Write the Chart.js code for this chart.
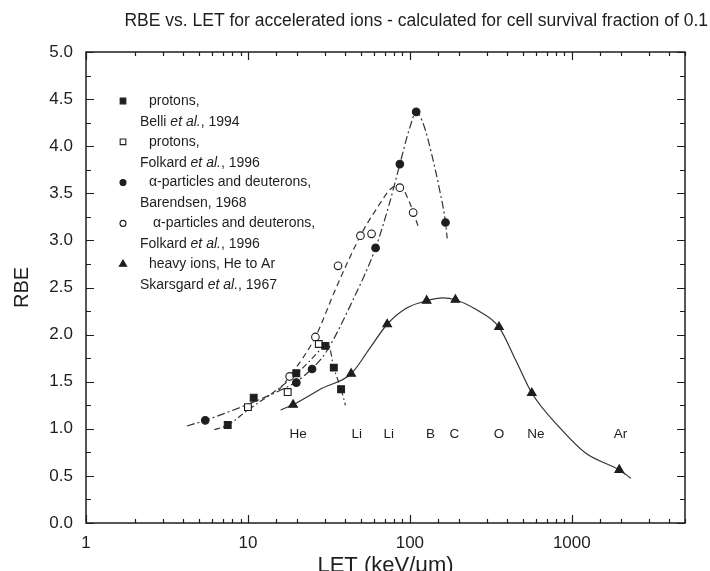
<!DOCTYPE html>
<html>
<head>
<meta charset="utf-8">
<script src="https://cdn.jsdelivr.net/npm/chart.js@4.4.0/dist/chart.umd.min.js"></script>
<style>
  html, body { margin: 0; padding: 0; background: #fff; }
  canvas { display: block; }
</style>
</head>
<body>
<canvas id="rbe-chart" width="710" height="571"></canvas>
<script>
// measured points (LET in keV/um, RBE)
const belliLET = [7.5, 10.85, 19.9, 30.1, 33.9, 37.6]
const belliRBE = [1.04, 1.33, 1.59, 1.88, 1.65, 1.42]
const folkardProtonLET = [10, 17.6, 27.4]
const folkardProtonRBE = [1.23, 1.39, 1.90]
const barendsenLET = [5.45, 19.9, 24.9, 61.4, 86.7, 109.4, 166]
const barendsenRBE = [1.09, 1.49, 1.635, 2.92, 3.81, 4.365, 3.19]
const folkardAlphaLET = [18.1, 26.1, 36.0, 49.5, 58, 86.7, 104.8]
const folkardAlphaRBE = [1.556, 1.975, 2.73, 3.05, 3.07, 3.56, 3.295]
const skarsgardLET = [19.0, 43.4, 72.4, 127, 191, 355, 566, 1963]
const skarsgardRBE = [1.255, 1.585, 2.11, 2.36, 2.37, 2.08, 1.38, 0.564]

// fitted curves
const belliFitLET = [6.2, 7.5, 10, 15, 19.9, 25, 29, 31.5, 33.9, 37.6, 40]
const belliFitRBE = [0.99, 1.04, 1.2, 1.41, 1.58, 1.75, 1.86, 1.88, 1.65, 1.42, 1.25]
const barendsenFitLET = [4.2, 5.45, 10, 15, 19.9, 24.9, 30, 44, 61.4, 75, 86.7, 100, 109.4, 122, 137, 152, 166, 170]
const barendsenFitRBE = [1.03, 1.09, 1.26, 1.39, 1.5, 1.64, 1.8, 2.35, 2.92, 3.4, 3.81, 4.2, 4.365, 4.22, 3.9, 3.55, 3.19, 3.02]
const folkardFitLET = [15.5, 18.1, 26.1, 34.7, 49.5, 62, 77.7, 86.7, 98.6, 112.5]
const folkardFitRBE = [1.41, 1.556, 1.975, 2.48, 3.05, 3.33, 3.56, 3.58, 3.42, 3.15]
const skarsgardFitLET = [15.9, 19, 28.7, 43.4, 55.8, 72.4, 95, 127, 160, 191, 260, 355, 450, 566, 834, 1222, 1963, 2317]
const skarsgardFitRBE = [1.20, 1.255, 1.43, 1.585, 1.84, 2.11, 2.28, 2.36, 2.39, 2.37, 2.26, 2.08, 1.73, 1.38, 1.02, 0.74, 0.564, 0.475]

// ion names written under the curve
const ionNames = ['He', 'Li', 'Li', 'B', 'C', 'O', 'Ne', 'Ar']
const ionLET = [20.4, 47, 74, 134, 188, 355, 599, 2000]
const ionLabelRBE = 0.94

const xTickLabels = [1, 10, 100, 1000]

const legendFirst = ['protons,', 'protons,', '\u03b1-particles and deuterons,', '\u03b1-particles and deuterons,', 'heavy ions, He to Ar']
const legendAuthor = ['Belli', 'Folkard', 'Barendsen, 1968', 'Folkard', 'Skarsgard']
const legendEtAl = ['et al.', 'et al.', '', 'et al.', 'et al.']
const legendYear = [', 1994', ', 1996', '', ', 1996', ', 1967']

const ink = '#1e1e1e'
const fontName = '"Liberation Sans", Arial, sans-serif'

function pts(xs, ys) {
    return xs.map((x, i) => ({ x: x, y: ys[i] }))
}

const markerStyles = [
    { pointStyle: 'rect', radius: 4.8, fill: ink },
    { pointStyle: 'rect', radius: 4.8, fill: '#fff' },
    { pointStyle: 'circle', radius: 3.8, fill: ink },
    { pointStyle: 'circle', radius: 3.8, fill: '#fff' },
    { pointStyle: 'triangle', radius: 5, fill: ink }
]

function markerSet(label, xs, ys, m) {
    return {
        label: label,
        data: pts(xs, ys),
        showLine: false,
        pointStyle: m.pointStyle,
        pointRadius: m.radius,
        pointBackgroundColor: m.fill,
        pointBorderColor: ink,
        pointBorderWidth: 1.1,
        order: 0
    }
}

function curveSet(label, xs, ys, dash) {
    return {
        label: label,
        data: pts(xs, ys),
        showLine: true,
        pointRadius: 0,
        borderColor: '#333',
        borderWidth: 1.2,
        borderDash: dash,
        cubicInterpolationMode: 'monotone',
        order: 1
    }
}

const decorations = {
    id: 'decorations',
    afterDraw(chart) {
        const ctx = chart.ctx
        const area = chart.chartArea
        const xs = chart.scales.x
        const ys = chart.scales.y
        ctx.save()

        // frame
        ctx.strokeStyle = ink
        ctx.lineWidth = 1.5
        ctx.strokeRect(area.left, area.top, area.right - area.left, area.bottom - area.top)

        // inward tick marks on all four sides
        ctx.lineWidth = 1.2
        ctx.beginPath()
        xs.ticks.forEach(t => {
            const v = t.value
            const major = Math.abs(Math.log10(v) - Math.round(Math.log10(v))) < 1e-6
            const len = major ? 8 : 4
            const px = Math.round(xs.getPixelForValue(v)) + 0.5
            ctx.moveTo(px, area.bottom); ctx.lineTo(px, area.bottom - len)
            ctx.moveTo(px, area.top); ctx.lineTo(px, area.top + len)
        })
        const yt = ys.ticks.map(t => t.value)
        yt.forEach((v, i) => {
            const py = Math.round(ys.getPixelForValue(v)) + 0.5
            ctx.moveTo(area.left, py); ctx.lineTo(area.left + 8, py)
            ctx.moveTo(area.right, py); ctx.lineTo(area.right - 8, py)
            if (i < yt.length - 1) {
                const pm = Math.round(ys.getPixelForValue((v + yt[i + 1]) / 2)) + 0.5
                ctx.moveTo(area.left, pm); ctx.lineTo(area.left + 5, pm)
                ctx.moveTo(area.right, pm); ctx.lineTo(area.right - 5, pm)
            }
        })
        ctx.stroke()

        // title
        ctx.fillStyle = ink
        ctx.font = '17.5px ' + fontName
        ctx.textAlign = 'right'
        ctx.textBaseline = 'middle'
        ctx.fillText('RBE vs. LET for accelerated ions - calculated for cell survival fraction of 0.1', 708, 21)

        // ion labels
        ctx.font = '13.5px ' + fontName
        ctx.textAlign = 'center'
        ionNames.forEach((n, i) => {
            ctx.fillText(n, xs.getPixelForValue(ionLET[i]), ys.getPixelForValue(ionLabelRBE))
        })

        // legend
        ctx.textAlign = 'left'
        for (let i = 0; i < legendFirst.length; i++) {
            const y0 = 101 + i * 40.8
            const m = markerStyles[i]
            ctx.fillStyle = m.fill
            ctx.strokeStyle = ink
            ctx.lineWidth = 1.1
            Chart.helpers.drawPoint(ctx, { pointStyle: m.pointStyle, radius: m.radius - 0.8, rotation: 0, borderWidth: 1.1 }, 123, y0)
            ctx.fillStyle = ink
            ctx.font = '14px ' + fontName
            ctx.fillText(legendFirst[i], i === 3 ? 153 : 149, y0)
            let x = 140
            const y1 = y0 + 21
            ctx.fillText(legendAuthor[i], x, y1)
            x += ctx.measureText(legendAuthor[i]).width
            if (legendEtAl[i]) {
                ctx.fillText(' ', x, y1)
                x += ctx.measureText(' ').width
                ctx.font = 'italic 14px ' + fontName
                ctx.fillText(legendEtAl[i], x, y1)
                x += ctx.measureText(legendEtAl[i]).width
                ctx.font = '14px ' + fontName
                ctx.fillText(legendYear[i], x, y1)
            }
        }
        ctx.restore()
    }
}

new Chart(document.getElementById('rbe-chart').getContext('2d'), {
    type: 'scatter',
    data: {
        datasets: [
            markerSet('protons, Belli et al., 1994', belliLET, belliRBE, markerStyles[0]),
            markerSet('protons, Folkard et al., 1996', folkardProtonLET, folkardProtonRBE, markerStyles[1]),
            markerSet('alpha-particles and deuterons, Barendsen, 1968', barendsenLET, barendsenRBE, markerStyles[2]),
            markerSet('alpha-particles and deuterons, Folkard et al., 1996', folkardAlphaLET, folkardAlphaRBE, markerStyles[3]),
            markerSet('heavy ions, He to Ar, Skarsgard et al., 1967', skarsgardLET, skarsgardRBE, markerStyles[4]),
            curveSet('Belli fit', belliFitLET, belliFitRBE, [6, 3, 1.5, 3]),
            curveSet('Barendsen fit', barendsenFitLET, barendsenFitRBE, [8, 3, 2, 3]),
            curveSet('Folkard fit', folkardFitLET, folkardFitRBE, [6, 4]),
            curveSet('Skarsgard fit', skarsgardFitLET, skarsgardFitRBE, [])
        ]
    },
    options: {
        responsive: false,
        animation: false,
        layout: { padding: { top: 52, right: 25, bottom: 0, left: 0 } },
        plugins: {
            legend: { display: false },
            tooltip: { enabled: false }
        },
        scales: {
            x: {
                type: 'logarithmic',
                min: 1,
                max: 5000,
                grid: { display: false, drawTicks: false },
                border: { display: false },
                ticks: {
                    autoSkip: false,
                    maxRotation: 0,
                    padding: 10,
                    color: ink,
                    font: { family: fontName, size: 17 },
                    callback: v => xTickLabels.includes(v) ? String(v) : ''
                },
                title: {
                    display: true,
                    text: 'LET (keV/\u03bcm)',
                    color: ink,
                    font: { family: fontName, size: 22, lineHeight: 1 },
                    padding: { top: 0, bottom: -6 }
                },
                afterFit: s => { s.height = 48 }
            },
            y: {
                min: 0,
                max: 5,
                grid: { display: false, drawTicks: false },
                border: { display: false },
                ticks: {
                    stepSize: 0.5,
                    padding: 13,
                    color: ink,
                    font: { family: fontName, size: 17 },
                    callback: v => v.toFixed(1)
                },
                title: {
                    display: true,
                    text: 'RBE',
                    color: ink,
                    font: { family: fontName, size: 20, lineHeight: 1 },
                    padding: { top: 12, bottom: 0 }
                },
                afterFit: s => { s.width = 86 }
            }
        }
    },
    plugins: [decorations]
})
</script>
</body>
</html>
